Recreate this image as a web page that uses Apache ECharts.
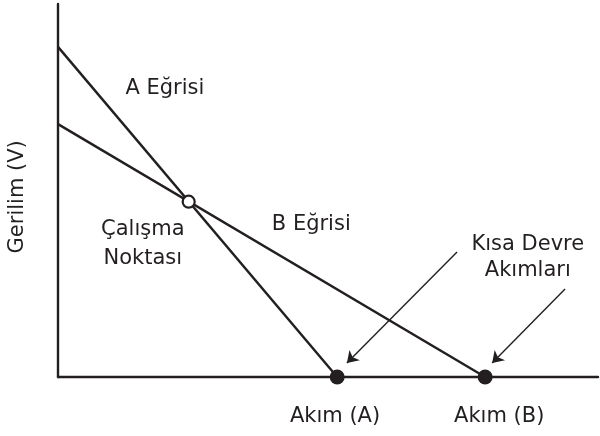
<!DOCTYPE html>
<html>
<head>
<meta charset="utf-8">
<script src="https://cdn.jsdelivr.net/npm/echarts@6/dist/echarts.min.js"></script>
<style>html,body{margin:0;padding:0;background:#fff}#c{width:600px;height:436px}</style>
</head>
<body>
<div id="c"></div>
<script>
// Curves (current, voltage) in relative units
const curveA = [[0, 88.5], [51.7, 0]];
const curveB = [[0, 67.8], [79.1, 0]];
const operatingPoint = [[24.2, 47.0]];
const shortCircuit = [[51.7, 0], [79.1, 0]];
const arrowLines = [
  [[73.9, 33.5], [53.5, 3.75]],
  [[93.9, 23.6], [80.4, 3.75]]
];
const annotationTexts = ['A Eğrisi', 'B Eğrisi', 'Çalışma\nNoktası', 'Kısa Devre\nAkımları', 'Akım (A)', 'Akım (B)'];
const annotationPos = [[19.8, 77.2], [46.9, 41.0], [15.7, 35.7], [87.0, 31.9], [51.3, -10.5], [81.7, -10.5]];
const annotationLineHeight = [24, 24, 29, 26, 24, 24];
const yAxisTitle = 'Gerilim (V)';
const yTitlePos = [-7.4, 48.3];

const ink = '#231f20';
const font = 'DejaVu Sans';

const chart = echarts.init(document.getElementById('c'), null, {renderer: 'canvas'});
const axisCommon = {
  type: 'value', min: 0, max: 100,
  axisLine: {show: true, lineStyle: {color: ink, width: 2.4}},
  axisTick: {show: false}, axisLabel: {show: false}, splitLine: {show: false}
};
chart.setOption({
  animation: false,
  backgroundColor: '#fff',
  grid: {left: 58, right: 2, top: 4, bottom: 59, containLabel: false},
  xAxis: axisCommon,
  yAxis: axisCommon,
  series: [
    {type: 'line', data: curveA, symbol: 'none', lineStyle: {color: ink, width: 2.4}, z: 2},
    {type: 'line', data: curveB, symbol: 'none', lineStyle: {color: ink, width: 2.4}, z: 2},
    {type: 'lines', coordinateSystem: 'cartesian2d',
      data: arrowLines.map(c => ({coords: c})),
      symbol: ['none', 'arrow'], symbolSize: 11,
      lineStyle: {color: ink, width: 1.4, opacity: 1}, z: 3},
    {type: 'scatter', data: shortCircuit, symbol: 'circle', symbolSize: 15,
      itemStyle: {color: ink, opacity: 1}, clip: false, z: 4},
    {type: 'scatter', data: operatingPoint, symbol: 'circle', symbolSize: 12,
      itemStyle: {color: '#fff', borderColor: ink, borderWidth: 2.2, opacity: 1}, clip: false, z: 4},
    {type: 'scatter', clip: false, symbolSize: 0, silent: true, z: 5,
      itemStyle: {opacity: 1},
      data: annotationTexts.map((t, i) => ({
        value: annotationPos[i], name: t,
        label: {show: true, position: 'inside', formatter: t, color: ink,
          fontFamily: font, fontSize: 21, lineHeight: annotationLineHeight[i], align: 'center', verticalAlign: 'middle'}
      })).concat([{
        value: yTitlePos, name: yAxisTitle,
        label: {show: true, position: 'inside', formatter: yAxisTitle, color: ink, rotate: 90,
          fontFamily: font, fontSize: 21, align: 'center', verticalAlign: 'middle'}
      }])
    }
  ]
});
</script>
</body>
</html>
